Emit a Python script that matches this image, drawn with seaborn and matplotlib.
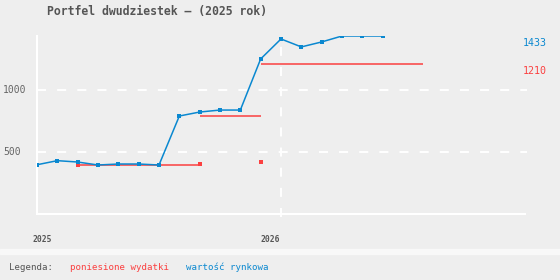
import matplotlib
matplotlib.use("Agg")
import matplotlib.pyplot as plt
import seaborn as sns
import pandas as pd
from matplotlib.patches import Rectangle

# ---- data ----
months = list(range(18))  # Jan 2025 .. Jun 2026
market_value = [397, 430, 419, 395, 403, 403, 395, 790, 822, 838, 838, 1250,
                1411, 1347, 1387, 1435, 1435, 1435]
cost_start = [2, 8, 11]
cost_end = [8, 11, 19]
cost_level = [395, 790, 1210]
cost_marker_x = [2, 8, 11]
cost_marker_y = [395, 403, 419]
year_ticks = [0, 12]
year_labels = ["2025", "2026"]
last_value_label = "1433"
last_cost_label = "1210"
title = "Portfel dwudziestek – (2025 rok)"
legend_items = ["poniesione wydatki", "wartość rynkowa"]

BLUE = "#0a88d0"
RED = "#fb4040"
BG = "#eeeeee"
GRAY = "#555555"

sns.set_theme(style="white")
plt.rcParams["font.family"] = ["DejaVu Sans Mono", "DejaVu Sans"]
plt.rcParams["lines.scale_dashes"] = False

fig = plt.figure(figsize=(5.6, 2.8), dpi=100, facecolor=BG)
W, H = 560, 280
ax = fig.add_axes([37 / W, 1 - 214 / H, (525 - 37) / W, (214 - 36) / H])
ax.set_facecolor(BG)
ax.set_xlim(0, 24)
ax.set_ylim(0, 1435)

# grid
for yv in [500, 1000]:
    ax.axhline(yv, color="white", lw=1.4, ls=(0, (6.5, 8)), zorder=1,
               xmax=1.005, clip_on=False)
for xv in year_ticks[1:]:
    ax.axvline(xv, color="white", lw=1.4, ls=(0, (6.5, 8)), zorder=1,
               ymin=-0.015, clip_on=False)

for s in ["top", "right"]:
    ax.spines[s].set_visible(False)
for s in ["left", "bottom"]:
    ax.spines[s].set_color("white")
    ax.spines[s].set_linewidth(1.5)

df_val = pd.DataFrame({"m": months, "v": market_value})
df_cost = pd.DataFrame({"m": cost_marker_x, "v": cost_marker_y})

ax.hlines(cost_level, cost_start, cost_end, color=RED, lw=1.1, zorder=2)
sns.scatterplot(data=df_cost, x="m", y="v", ax=ax, marker="s", s=8,
                color=RED, edgecolor="none", zorder=3)
sns.lineplot(data=df_val, x="m", y="v", ax=ax, color=BLUE, lw=1.1,
             marker="s", markersize=3, markeredgewidth=0, zorder=4)

ax.set_xlabel("")
ax.set_ylabel("")
ax.set_xticks([])
ax.set_yticks([])

# y tick labels
for yv in [500, 1000]:
    fig.text(3 / W, 1 - (214.3 - yv * 0.124) / H, str(yv), ha="left",
             va="center", fontsize=7, color="#666666")

# x year labels
for xv, lab, off in zip(year_ticks, year_labels, [5.5, -11]):
    px = 37 + xv * 20.33 + off
    fig.text(px / W, 1 - 239 / H, lab, ha="center", va="center",
             fontsize=5.8, color=GRAY, fontweight="bold")

# end labels
fig.text(523 / W, 1 - 43 / H, last_value_label, ha="left", va="center",
         fontsize=7.2, color=BLUE)
fig.text(523 / W, 1 - 71 / H, last_cost_label, ha="left", va="center",
         fontsize=7.2, color=RED)

# title
fig.text(157 / W, 1 - 12 / H, title, ha="center", va="center",
         fontsize=8.3, color=GRAY, fontweight="bold")

# separator band
fig.patches.append(Rectangle((0, 1 - 254 / H), 1, 5 / H,
                             transform=fig.transFigure, color="#f8f8f8",
                             zorder=0))

# legend row
fig.text(9 / W, 1 - 267 / H, "Legenda:", ha="left", va="center",
         fontsize=6.6, color=GRAY)
fig.text(70 / W, 1 - 267 / H, legend_items[0], ha="left", va="center",
         fontsize=6.6, color=RED)
fig.text(186 / W, 1 - 267 / H, legend_items[1], ha="left", va="center",
         fontsize=6.6, color=BLUE)

fig.savefig("out.png", dpi=100, facecolor=BG)
